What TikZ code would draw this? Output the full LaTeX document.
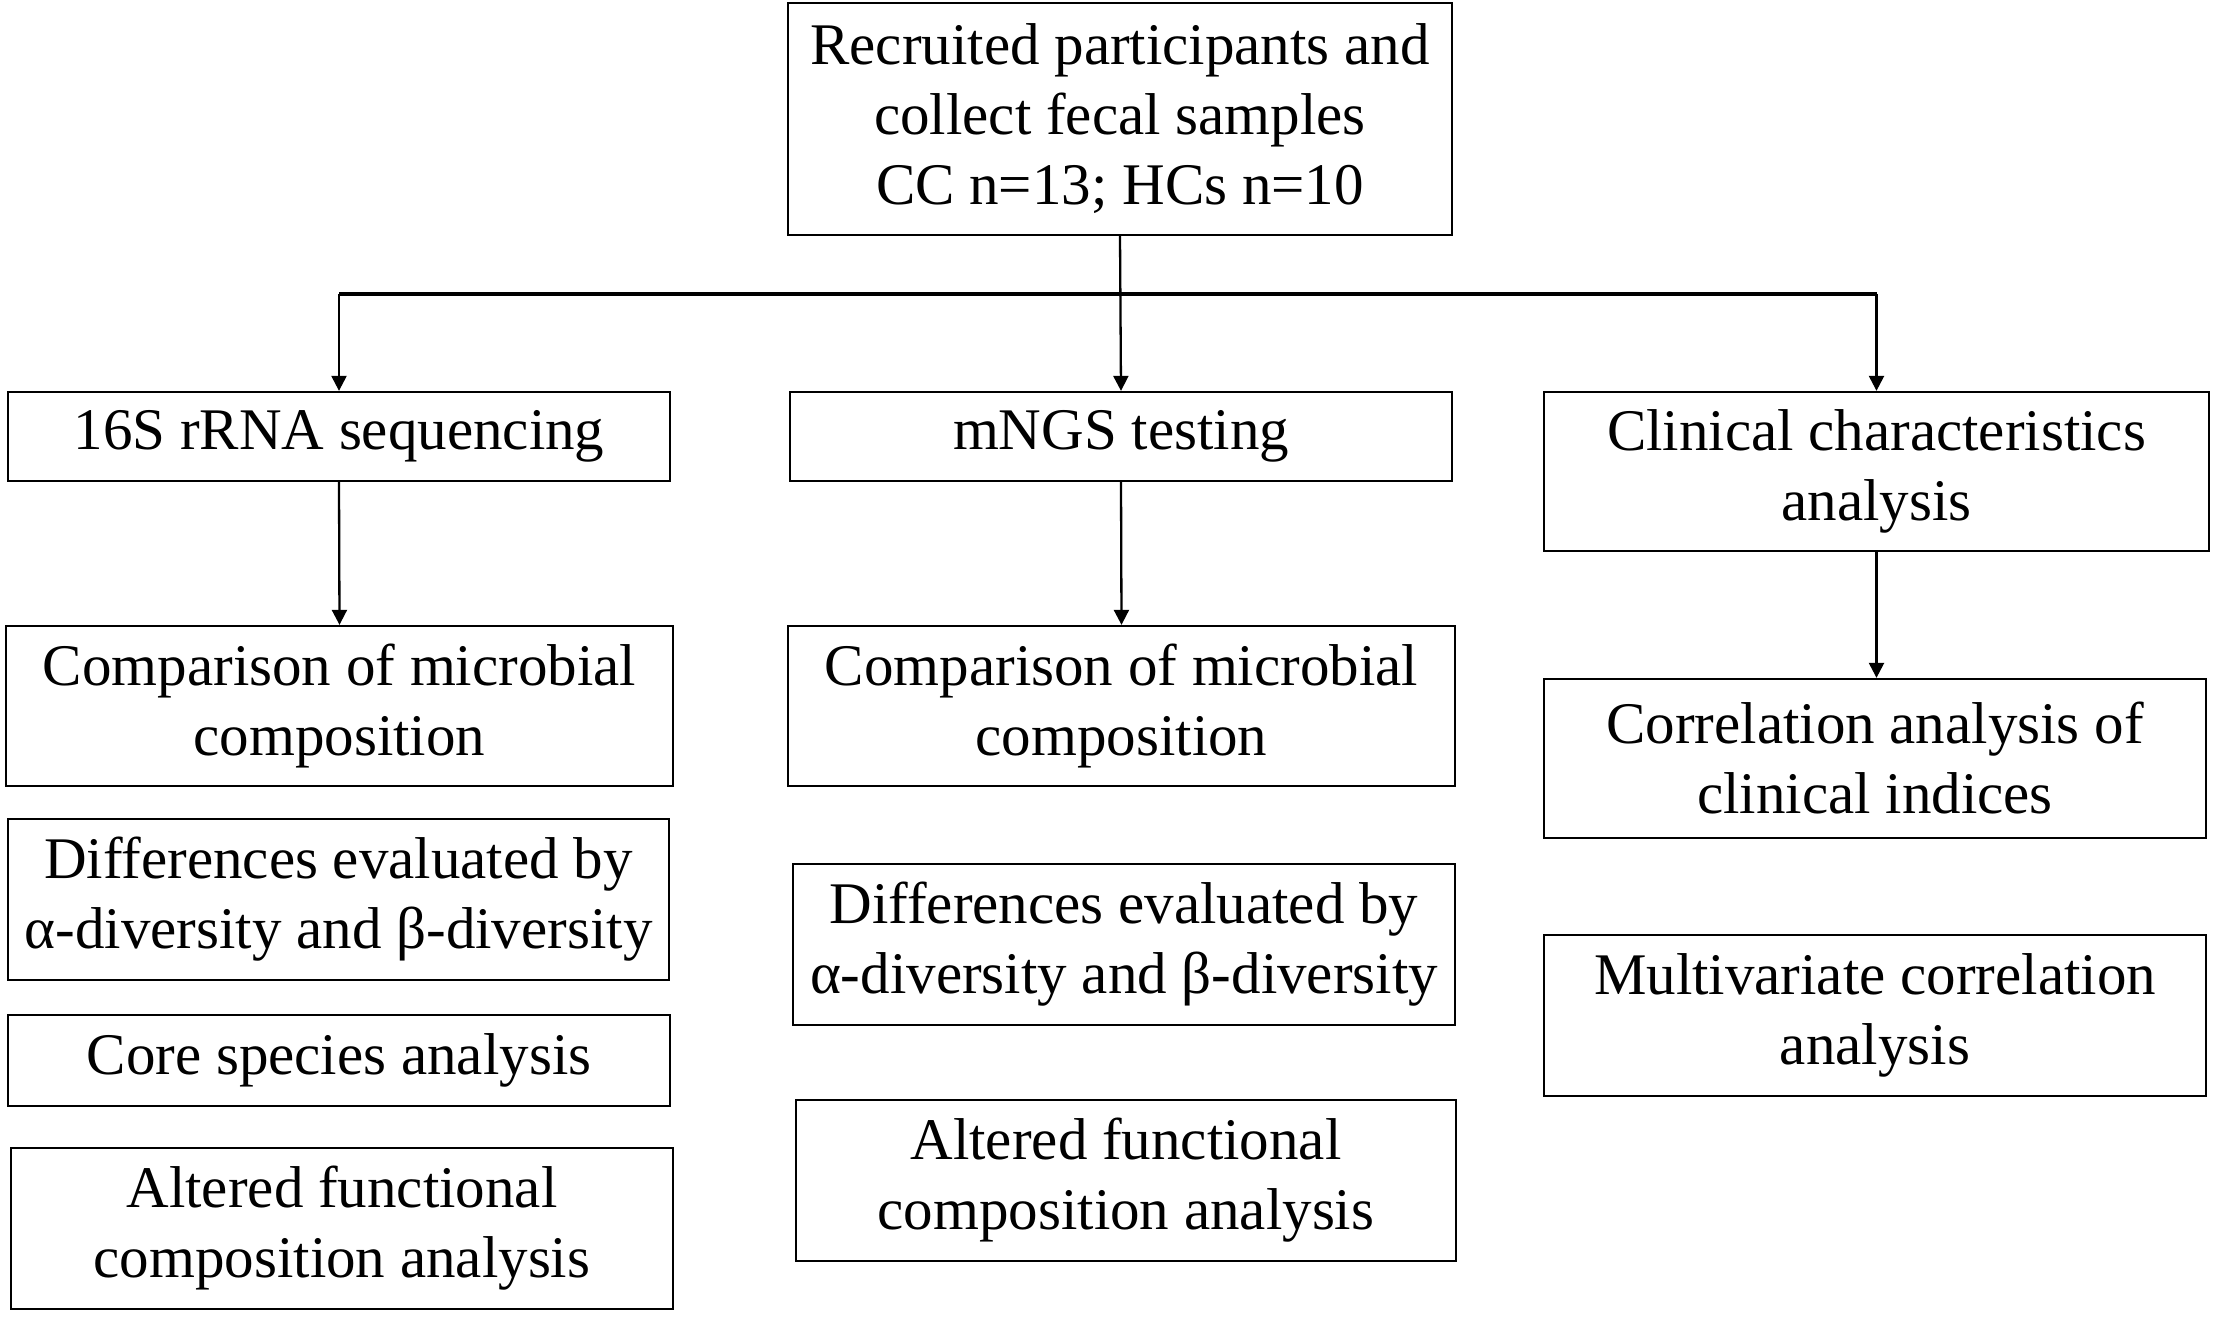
\documentclass[tikz,border=0pt]{standalone}
\usepackage{fontspec}
\setmainfont{Liberation Serif}
\usetikzlibrary{arrows.meta, positioning}
\tikzset{
	block/.style={draw, line width=1.15pt, align=center, inner sep=0pt, font=\fontsize{29.5}{35}\selectfont},
	link/.style={line width=1.15pt, -{Triangle[length=7.5pt, width=7.5pt]}},
	bar/.style={line width=2pt}
}

\begin{document}
\begin{tikzpicture}[x=0.5pt, y=-0.5pt]
		\useasboundingbox (0,0) rectangle (2217,1321);
		
		\node[block, minimum width=332pt, minimum height=116pt] (recruit) at (1120,119) {Recruited participants and\\ collect fecal samples\\ CC n=13; HCs n=10};
		
		\node[block, minimum width=331pt, minimum height=44.5pt] (seq) at (339,436.5) {16S rRNA sequencing};
		\node[block, minimum width=331pt, minimum height=44.5pt] (mngs) at (1121,436.5) {mNGS testing};
		\node[block, minimum width=332.5pt, minimum height=79.5pt] (clinical) at (1876.5,471.5) {Clinical characteristics\\ analysis};
		
		\node[block, minimum width=333.5pt, minimum height=80pt] (seqcomp) at (339.5,706) {Comparison of microbial\\ composition};
		\node[block, minimum width=330.5pt, minimum height=80.5pt] (seqdiv) at (338.5,899.5) {Differences evaluated by\\ α-diversity and β-diversity};
		\node[block, minimum width=331pt, minimum height=45.5pt] (seqcore) at (339,1060.5) {Core species analysis};
		\node[block, minimum width=331pt, minimum height=80.5pt] (seqfunc) at (342,1228.5) {Altered functional\\ composition analysis};
		
		\node[block, minimum width=333.5pt, minimum height=80pt] (mngscomp) at (1121.5,706) {Comparison of microbial\\ composition};
		\node[block, minimum width=331pt, minimum height=80.5pt] (mngsdiv) at (1124,944.5) {Differences evaluated by\\ α-diversity and β-diversity};
		\node[block, minimum width=330pt, minimum height=80.5pt] (mngsfunc) at (1126,1180.5) {Altered functional\\ composition analysis};
		
		\node[block, minimum width=331pt, minimum height=79.5pt] (corr) at (1875,758.5) {Correlation analysis of\\ clinical indices};
		\node[block, minimum width=331pt, minimum height=80.5pt] (multi) at (1875,1015.5) {Multivariate correlation\\ analysis};
		
		\coordinate (split) at (1120,294);
		
		\draw[bar] (seq.north |- split) -- (clinical.north |- split);
		\draw[link] (recruit.south) -- (mngs.north);
		\draw[link] (seq.north |- split) -- (seq.north);
		\draw[link] (clinical.north |- split) -- (clinical.north);
		
		\draw[link] (seq.south) -- (seqcomp.north);
		\draw[link] (mngs.south) -- (mngscomp.north);
		\draw[link] (clinical.south) -- (clinical.south |- corr.north);
	\end{tikzpicture}
\end{document}
